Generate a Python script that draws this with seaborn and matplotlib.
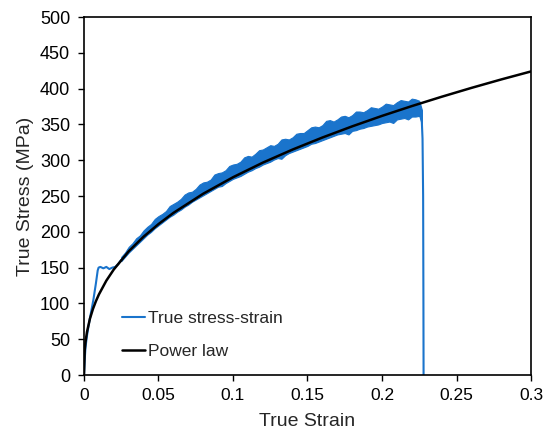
import numpy as np
import pandas as pd
import matplotlib
matplotlib.use("Agg")
import matplotlib.pyplot as plt
import seaborn as sns

# power law fit
pl_strain = [0, 0.0005, 0.001, 0.002, 0.004, 0.006, 0.008, 0.01, 0.015, 0.02, 0.03, 0.04,
             0.05, 0.06, 0.08, 0.1, 0.12, 0.14, 0.16, 0.18, 0.2, 0.22, 0.24, 0.26, 0.28, 0.3]
pl_stress = [0, 35.0, 45.8, 60.1, 78.7, 92.2, 103.1, 112.5, 131.8, 147.4, 172.7, 193.2,
             210.8, 226.4, 253.2, 276.2, 296.6, 314.9, 331.7, 347.3, 361.9, 375.6, 388.6, 401.0, 412.8, 424.0]

# measured curve: elastic part and yield plateau
el_strain = [0, 0.0005, 0.001, 0.0018, 0.003, 0.0045, 0.0063, 0.008, 0.0092, 0.0098,
             0.011, 0.013, 0.015, 0.017, 0.019, 0.021, 0.023, 0.025]
el_stress = [0, 22, 38, 52, 68, 85, 105, 128, 146, 150,
             151, 149, 151, 148, 150, 151, 155, 161]

# measured curve: noisy hardening band (upper / lower edge)
band_strain = [0.025, 0.0275, 0.03, 0.0325, 0.035, 0.0375, 0.04, 0.0425, 0.045, 0.0475,
               0.05, 0.0525, 0.055, 0.0575, 0.06, 0.0625, 0.065, 0.0675, 0.07, 0.0725,
               0.075, 0.0775, 0.08, 0.0825, 0.085, 0.0875, 0.09, 0.0925, 0.095, 0.0975,
               0.1, 0.1025, 0.105, 0.1075, 0.11, 0.1125, 0.115, 0.1175, 0.12, 0.1225,
               0.125, 0.1275, 0.13, 0.1325, 0.135, 0.1375, 0.14, 0.1425, 0.145, 0.1475,
               0.15, 0.1525, 0.155, 0.1575, 0.16, 0.1625, 0.165, 0.1675, 0.17, 0.1725,
               0.175, 0.1775, 0.18, 0.1825, 0.185, 0.1875, 0.19, 0.1925, 0.195, 0.1975,
               0.2, 0.2025, 0.205, 0.2075, 0.21, 0.2125, 0.215, 0.2175, 0.22, 0.2225,
               0.225, 0.2268]
band_upper = [165, 171, 179, 184, 191, 195, 202, 207, 211, 218,
              222, 225, 229, 236, 239, 242, 246, 252, 255, 256,
              260, 266, 269, 270, 273, 280, 282, 283, 286, 292,
              294, 295, 298, 304, 306, 305, 309, 314, 315, 318,
              321, 320, 323, 329, 330, 329, 332, 337, 338, 338,
              342, 346, 347, 346, 349, 355, 356, 354, 357, 361,
              362, 360, 363, 368, 368, 367, 370, 374, 373, 372,
              375, 379, 378, 377, 381, 384, 383, 382, 386, 385,
              383, 370]
band_lower = [159, 165, 171, 176, 181, 186, 191, 196, 200, 205,
              209, 213, 217, 221, 224, 228, 231, 235, 238, 242,
              245, 248, 251, 254, 257, 260, 263, 264, 268, 271,
              274, 276, 278, 281, 284, 286, 289, 291, 294, 296,
              298, 301, 303, 302, 307, 310, 312, 314, 316, 318,
              320, 323, 324, 326, 328, 330, 332, 334, 336, 337,
              338, 336, 341, 342, 344, 345, 347, 348, 349, 350,
              352, 353, 354, 352, 357, 358, 359, 357, 361, 361,
              362, 350]

# fracture drop
drop_strain = [0.2266, 0.2272, 0.2276, 0.2278, 0.2279]
drop_stress = [360, 330, 250, 100, 0]

x_ticks = [0, 0.05, 0.1, 0.15, 0.2, 0.25, 0.3]
x_labels = ["0", "0.05", "0.1", "0.15", "0.2", "0.25", "0.3"]
y_ticks = [0, 50, 100, 150, 200, 250, 300, 350, 400, 450, 500]

blue = "#1a74cc"

sns.set_theme(style="ticks")
plt.rcParams['font.family'] = ['Liberation Sans', 'DejaVu Sans']

fig = plt.figure(figsize=(5.54, 4.32), dpi=100)
ax = fig.add_axes([0.1516, 0.1319, 0.8069, 0.8287])

ax.fill_between(band_strain, band_lower, band_upper, color=blue, lw=0.8, edgecolor=blue)
sns.lineplot(x=el_strain, y=el_stress, ax=ax, color=blue, lw=1.5, label="True stress-strain", sort=False)
sns.lineplot(x=drop_strain, y=drop_stress, ax=ax, color=blue, lw=1.5, sort=False)
sns.lineplot(x=pl_strain, y=pl_stress, ax=ax, color="black", lw=1.8, label="Power law", sort=False)

ax.set_xlim(0, 0.3)
ax.set_ylim(0, 500)
ax.set_xticks(x_ticks)
ax.set_xticklabels(x_labels)
ax.set_yticks(y_ticks)
ax.tick_params(axis="x", labelsize=12.5, length=4.5, width=1, colors="black", pad=5)
ax.tick_params(axis="y", labelsize=13, length=4.5, width=1, colors="black", pad=5.5)
for s in ax.spines.values():
    s.set_color("black")
    s.set_linewidth(1.2)
ax.set_xlabel("True Strain", fontsize=14, labelpad=7)
ax.set_ylabel("True Stress (MPa)", fontsize=14, labelpad=4)

ax.legend(loc="lower left", bbox_to_anchor=(0.085, 0.045), frameon=False, fontsize=12.5,
          handlelength=1.32, handletextpad=0.2, labelspacing=1.0, borderpad=0, borderaxespad=0)

fig.savefig("out.png", dpi=100)
